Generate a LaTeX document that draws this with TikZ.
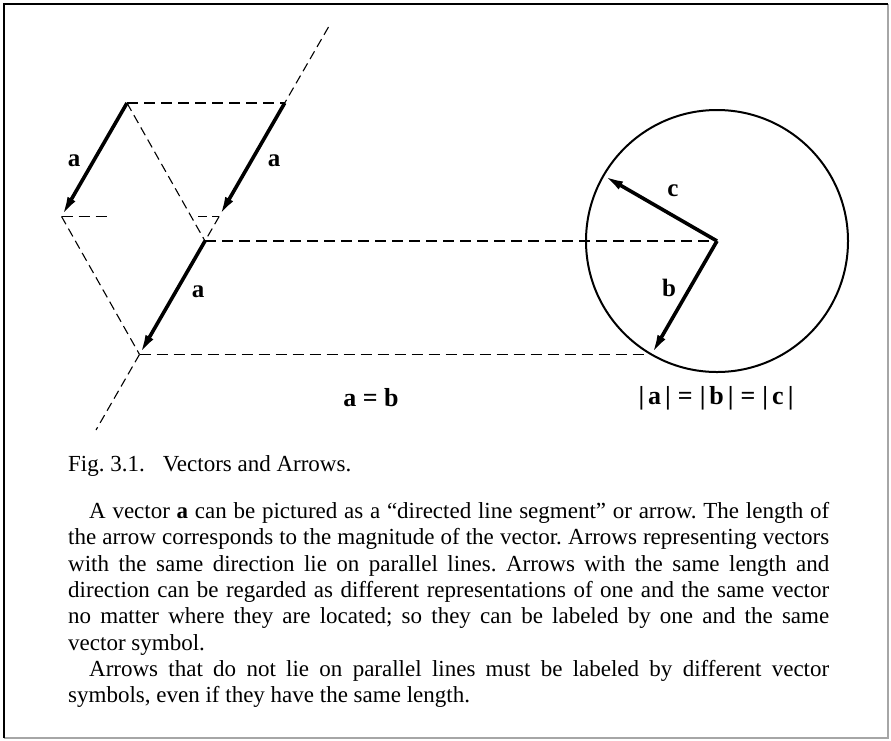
\documentclass[tikz,border=0pt]{standalone}
\usepackage{fontspec}
\setmainfont{Liberation Serif}
\usetikzlibrary{arrows.meta}
\frenchspacing
\begin{document}
\begin{tikzpicture}[x=1pt,y=-1pt,
  vec/.style={line width=3.6pt,-{Latex[length=20pt,width=9pt]}},
  hdash/.style={line width=1.4pt,dash pattern=on 11pt off 6pt},
  ddash/.style={line width=1.1pt,dash pattern=on 9pt off 5pt},
  lbl/.style={font=\fontsize{25pt}{25pt}\selectfont\bfseries,inner sep=0pt},
  eqn/.style={font=\fontsize{26pt}{26pt}\selectfont\bfseries,inner sep=0pt},
  txt/.style={font=\fontsize{23pt}{26.3pt}\selectfont,inner sep=0pt,anchor=base west}]
\useasboundingbox (0,0) rectangle (891,740);
\fill[white] (0,0) rectangle (891,740);
% frame
\draw[line width=1.2pt,gray!70] (888,4) -- (888,738) -- (4,738);
\draw[line width=1.6pt] (4,738) -- (4,4) -- (888,4);
% points
\coordinate (O) at (717,241);
\coordinate (A1s) at (127,103);
\coordinate (A1e) at (61.5,216.4);
\coordinate (A2s) at (284.7,103);
\coordinate (A2e) at (219.2,216.4);
\coordinate (A3s) at (205,241);
\coordinate (A3e) at (139.5,354.4);
\coordinate (Lt) at (328.5,27);
\coordinate (Lb) at (96,430);
\coordinate (Hm) at (110,216.4);
\coordinate (Hs) at (198,216.4);
\coordinate (Bt) at (651.5,354.4);
\coordinate (Ct) at (603.55,175.5);
% dashed construction lines
\draw[ddash] (Lt) -- (A2s);
\draw[ddash] (A2e) -- (A3s);
\draw[ddash] (A3e) -- (Lb);
\draw[hdash] (A1s) -- (A2s);
\draw[ddash] (A1s) -- (A3s);
\draw[ddash] (A1e) -- (A3e);
\draw[hdash] (A1e) -- (Hm);
\draw[ddash] (Hs) -- (A2e);
\draw[hdash] (A3s) -- (O);
\draw[hdash] (A3e) -- (Bt);
% circle
\draw[line width=2pt] (O) circle[radius=131];
% vectors
\draw[vec] (A1s) -- (A1e);
\draw[vec] (A2s) -- (A2e);
\draw[vec] (A3s) -- (A3e);
\draw[vec] (O) -- (Bt);
\draw[vec] (O) -- (Ct);
% labels
\node[lbl] (la1) at (74,161) {a};
\node[lbl] (la2) at (274,161) {a};
\node[lbl] (la3) at (198,292) {a};
\node[lbl] (lc) at (673,191) {c};
\node[lbl] (lb) at (669,288) {b};
\node[eqn] (eq1) at (371,398) {a = b};
\node[eqn] (eq2) at (716,398) {|\hspace{4pt}a\hspace{4pt}|\hspace{7pt}=\hspace{7pt}|\hspace{4pt}b\hspace{4pt}|\hspace{7pt}=\hspace{7pt}|\hspace{4pt}c\hspace{4pt}|};
% caption and text
\node[txt] (cap) at (68,471.7) {Fig. 3.1.\hspace{18pt}Vectors and Arrows.};
\node[txt] (t1) at (89,518.5) {\hbox to 740pt{A vector \textbf{a} can be pictured as a “directed line segment” or arrow. The length of}};
\node[txt] (t2) at (68,544.8) {\hbox to 761pt{the arrow corresponds to the magnitude of the vector. Arrows representing vectors}};
\node[txt] (t3) at (68,571.1) {\hbox to 761pt{with the same direction lie on parallel lines. Arrows with the same length and}};
\node[txt] (t4) at (68,597.4) {\hbox to 761pt{direction can be regarded as different representations of one and the same vector}};
\node[txt] (t5) at (68,623.7) {\hbox to 761pt{no matter where they are located; so they can be labeled by one and the same}};
\node[txt] (t6) at (68,650) {vector symbol.};
\node[txt] (t7) at (89,676.3) {\hbox to 740pt{Arrows that do not lie on parallel lines must be labeled by different vector}};
\node[txt] (t8) at (68,702.6) {symbols, even if they have the same length.};
\end{tikzpicture}
\end{document}
